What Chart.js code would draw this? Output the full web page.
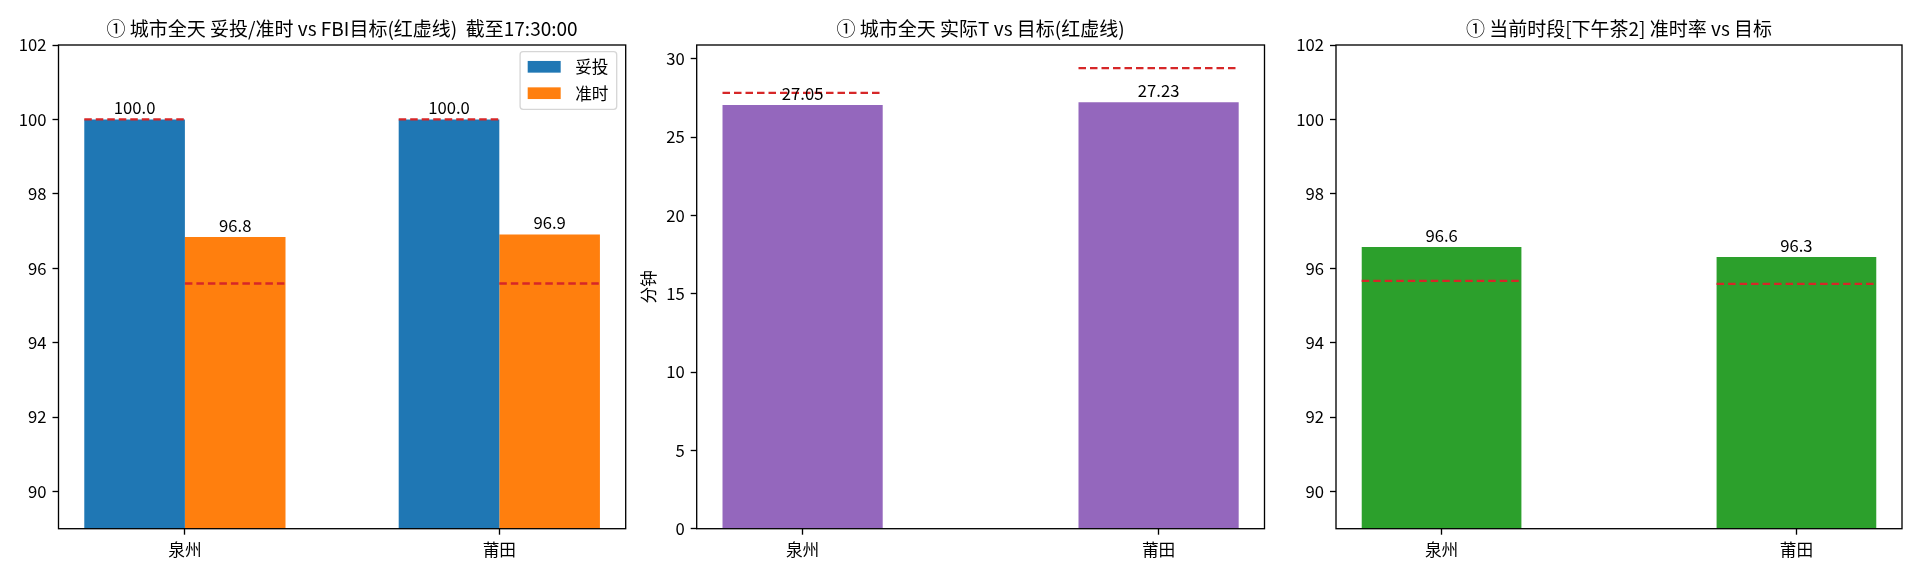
<!DOCTYPE html>
<html>
<head>
<meta charset="utf-8">
<script src="https://cdn.jsdelivr.net/npm/chart.js@4.4.1/dist/chart.umd.min.js"></script>
<style>
  html, body { margin: 0; padding: 0; background: #fff; }
  #wrap { position: relative; width: 1920px; height: 576px; overflow: hidden; background: #fff; }
  .box { position: absolute; top: 0; height: 576px; }
</style>
</head>
<body>
<div id="wrap">
  <div class="box" style="left:0;width:635px"><canvas id="c1"></canvas></div>
  <div class="box" style="left:635px;width:645px"><canvas id="c2"></canvas></div>
  <div class="box" style="left:1280px;width:640px"><canvas id="c3"></canvas></div>
</div>
<script>
// 数据
const cities = ['泉州', '莆田'];
const tuotouRate = [100.0, 100.0];
const zhunshiRate = [96.84, 96.91];
const tuotouTarget = [100.0, 100.0];
const zhunshiTarget = [95.59, 95.59];
const actualT = [27.05, 27.23];
const targetT = [27.83, 29.41];
const slotRate = [96.57, 96.30];
const slotTarget = [95.66, 95.58];
const rateTicks = [90, 92, 94, 96, 98, 100, 102];
const minuteTicks = [0, 5, 10, 15, 20, 25, 30];
const titles = [
  '① 城市全天 妥投/准时 vs FBI目标(红虚线)  截至17:30:00',
  '① 城市全天 实际T vs 目标(红虚线)',
  '① 当前时段[下午茶2] 准时率 vs 目标'
];

const FONT = '"Noto Sans CJK SC", "Noto Sans", sans-serif';
const FS = 16.67;
const LW = 1.33;
Chart.defaults.font.family = FONT;
Chart.defaults.font.size = FS;
Chart.defaults.color = '#000';

function points(vals) {
  return vals.map((v, i) => ({ x: i, y: v }));
}

// 标题: 居中于绘图区
const titlePlugin = {
  id: 'axTitle',
  afterDraw(chart, args, opts) {
    const ctx = chart.ctx, a = chart.chartArea;
    ctx.save();
    ctx.font = `19px ${FONT}`;
    ctx.fillStyle = '#000';
    ctx.textAlign = 'center';
    ctx.textBaseline = 'middle';
    ctx.fillText(opts.text, (a.left + a.right) / 2, 28.5);
    ctx.restore();
  }
};

// 边框
const framePlugin = {
  id: 'frame',
  afterDraw(chart) {
    const ctx = chart.ctx, a = chart.chartArea;
    ctx.save();
    ctx.strokeStyle = '#000';
    ctx.lineWidth = LW;
    ctx.strokeRect(a.left, a.top, a.right - a.left, a.bottom - a.top);
    ctx.restore();
  }
};

// 目标红虚线
const targetPlugin = {
  id: 'targets',
  afterDatasetsDraw(chart) {
    const ctx = chart.ctx, y = chart.scales.y;
    ctx.save();
    ctx.strokeStyle = '#d62728';
    ctx.lineWidth = 2.3;
    ctx.setLineDash([7.5, 4]);
    chart.data.datasets.forEach((ds, di) => {
      if (!ds.targets) return;
      chart.getDatasetMeta(di).data.forEach((el, i) => {
        const py = y.getPixelForValue(ds.targets[i]);
        ctx.beginPath();
        ctx.moveTo(el.x - el.width / 2, py);
        ctx.lineTo(el.x + el.width / 2, py);
        ctx.stroke();
      });
    });
    ctx.restore();
  }
};

// 柱顶数值
const valuePlugin = {
  id: 'values',
  afterDatasetsDraw(chart, args, opts) {
    const ctx = chart.ctx;
    ctx.save();
    ctx.font = `${FS}px ${FONT}`;
    ctx.fillStyle = '#000';
    ctx.textAlign = 'center';
    ctx.textBaseline = 'alphabetic';
    chart.data.datasets.forEach((ds, di) => {
      chart.getDatasetMeta(di).data.forEach((el, i) => {
        ctx.fillText(ds.data[i].y.toFixed(opts.digits), el.x, el.y - 5);
      });
    });
    ctx.restore();
  }
};

// 图例 (右上角, 绘图区内)
const legendPlugin = {
  id: 'boxLegend',
  afterDraw(chart, args, opts) {
    if (!opts.show) return;
    const ctx = chart.ctx, a = chart.chartArea;
    const items = chart.data.datasets;
    ctx.save();
    ctx.font = `${FS}px ${FONT}`;
    const textW = Math.max(...items.map(d => ctx.measureText(d.label).width));
    const patchW = 33, patchH = 11.7, rowH = 26.4, padX = 7.6, gap = 14.5;
    const w = padX + patchW + gap + textW + 8.2;
    const h = items.length * rowH + 4.8;
    const x = a.right - 9 - w, y0 = a.top + 6.7;
    ctx.fillStyle = 'rgba(255,255,255,0.8)';
    ctx.strokeStyle = '#d6d6d6';
    ctx.lineWidth = LW;
    ctx.beginPath();
    ctx.roundRect(x, y0, w, h, 3);
    ctx.fill();
    ctx.stroke();
    items.forEach((d, i) => {
      const cy = y0 + 15.1 + i * rowH;
      ctx.fillStyle = d.backgroundColor;
      ctx.fillRect(x + padX, cy - patchH / 2, patchW, patchH);
      ctx.fillStyle = '#000';
      ctx.textAlign = 'left';
      ctx.textBaseline = 'middle';
      ctx.fillText(d.label, x + padX + patchW + gap, cy);
    });
    ctx.restore();
  }
};

function xAxis(halfGroup) {
  // matplotlib 风格的 5% 边距
  const span = (cities.length - 1) + 2 * halfGroup;
  const margin = span * 0.05;
  return {
    type: 'linear',
    min: -halfGroup - margin,
    max: cities.length - 1 + halfGroup + margin,
    offset: false,
    afterBuildTicks: s => { s.ticks = cities.map((_, i) => ({ value: i })); },
    afterFit: s => { s.height = 47.3; },
    ticks: {
      autoSkip: false, maxRotation: 0, padding: 5,
      callback: v => cities[v]
    },
    grid: {
      display: true, offset: false, drawOnChartArea: false, drawTicks: true,
      tickLength: 6, tickWidth: LW, tickColor: '#000'
    },
    border: { display: false }
  };
}

function yAxis(min, max, tickVals, width, title) {
  return {
    type: 'linear',
    min: min, max: max,
    afterBuildTicks: s => { s.ticks = tickVals.map(v => ({ value: v })); },
    afterFit: s => { s.width = width; },
    ticks: { padding: 6 },
    title: title ? { display: true, text: title, font: { size: FS }, padding: { top: 4, bottom: 4 } } : { display: false },
    grid: {
      display: true, drawOnChartArea: false, drawTicks: true,
      tickLength: 6, tickWidth: LW, tickColor: '#000'
    },
    border: { display: false }
  };
}

function baseOptions(padRight, scales, pluginOpts) {
  return {
    responsive: true,
    maintainAspectRatio: false,
    animation: false,
    devicePixelRatio: 1,
    layout: { padding: { left: 0, right: padRight, top: 45, bottom: 0 } },
    scales: scales,
    plugins: Object.assign({
      legend: { display: false },
      tooltip: { enabled: false },
      title: { display: false }
    }, pluginOpts)
  };
}

const plugins = [targetPlugin, valuePlugin, framePlugin, legendPlugin, titlePlugin];

// 图1: 妥投/准时
new Chart(document.getElementById('c1'), {
  type: 'bar',
  plugins: plugins,
  data: {
    datasets: [
      { label: '妥投', data: points(tuotouRate), targets: tuotouTarget, backgroundColor: '#1f77b4' },
      { label: '准时', data: points(zhunshiRate), targets: zhunshiTarget, backgroundColor: '#ff7f0e' }
    ]
  },
  options: Object.assign(baseOptions(9.3, {
    x: xAxis(0.32),
    y: yAxis(89, 102, rateTicks, 58.5)
  }, {
    axTitle: { text: titles[0] },
    values: { digits: 1 },
    boxLegend: { show: true }
  }), { datasets: { bar: { categoryPercentage: 0.64, barPercentage: 1, borderWidth: 0 } } })
});

// 图2: 实际T vs 目标
new Chart(document.getElementById('c2'), {
  type: 'bar',
  plugins: plugins,
  data: {
    datasets: [
      { label: '实际T', data: points(actualT), targets: targetT, backgroundColor: '#9467bd' }
    ]
  },
  options: Object.assign(baseOptions(15.5, {
    x: xAxis(0.225),
    y: yAxis(0, Math.max(...targetT) * 1.05, minuteTicks, 61.7, '分钟')
  }, {
    axTitle: { text: titles[1] },
    values: { digits: 2 },
    boxLegend: { show: false }
  }), { datasets: { bar: { categoryPercentage: 0.45, barPercentage: 1, borderWidth: 0 } } })
});

// 图3: 当前时段准时率
new Chart(document.getElementById('c3'), {
  type: 'bar',
  plugins: plugins,
  data: {
    datasets: [
      { label: '准时率', data: points(slotRate), targets: slotTarget, backgroundColor: '#2ca02c' }
    ]
  },
  options: Object.assign(baseOptions(18, {
    x: xAxis(0.225),
    y: yAxis(89, 102, rateTicks, 56)
  }, {
    axTitle: { text: titles[2] },
    values: { digits: 1 },
    boxLegend: { show: false }
  }), { datasets: { bar: { categoryPercentage: 0.45, barPercentage: 1, borderWidth: 0 } } })
});
</script>
</body>
</html>
